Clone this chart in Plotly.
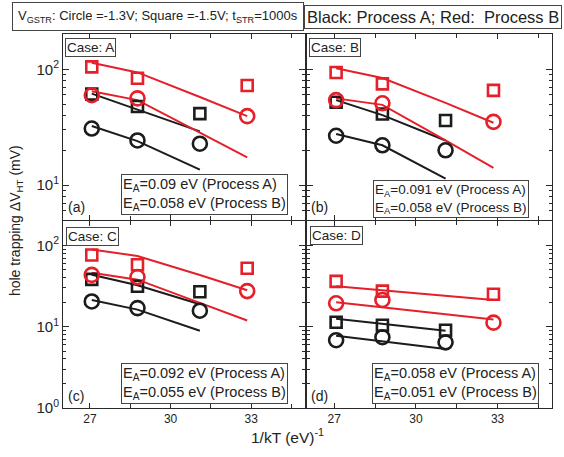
import plotly.graph_objects as go
import math

# ---------------- data ----------------
x_temps = [27.07, 28.77, 31.09, 32.85]          # 1/kT positions
x_black = x_temps[:3]
x_red = [x_temps[0], x_temps[1], x_temps[3]]

# Panel (a) Case A
a_black_sq = [61.0, 47.7, 41.4]
a_black_ci = [30.8, 24.3, 22.8]
a_red_sq = [105.0, 83.6, 72.4]
a_red_ci = [59.7, 56.1, 39.4]
a_black_sq_fit = [61.6, 45.1, 29.1]
a_black_ci_fit = [32.4, 24.0, 13.6]
a_red_sq_fit = [114.0, 94.0, 57.7, 39.4]
a_red_ci_fit = [64.6, 54.2, 28.4, 17.4]

# Panel (b) Case B
b_black_sq = [51.9, 41.1, 36.1]
b_black_ci = [26.7, 22.1, 20.0]
b_red_sq = [93.8, 74.8, 65.8]
b_red_ci = [54.2, 50.9, 35.2]
b_black_sq_fit = [54.2, 40.2, 24.3]
b_black_ci_fit = [27.6, 22.1, 11.4]
b_red_sq_fit = [102.0, 84.0, 51.3, 34.6]
b_red_ci_fit = [56.1, 49.3, 24.3, 14.1]

# Panel (c) Case C
c_black_sq = [38.2, 31.5, 26.9]
c_black_ci = [20.4, 16.9, 15.7]
c_red_sq = [76.4, 57.9, 52.3]
c_red_ci = [43.4, 40.8, 27.4]
c_black_sq_fit = [43.5, 32.4, 18.9]
c_black_ci_fit = [21.3, 16.2, 8.9]
c_red_sq_fit = [89.5, 74.3, 43.2, 28.1]
c_red_ci_fit = [46.0, 37.9, 19.6, 11.9]

# Panel (d) Case D (straight fits, end points only)
d_black_sq = [11.3, 10.4, 9.0]
d_black_ci = [6.8, 7.4, 6.4]
d_red_sq = [36.1, 27.4, 25.0]
d_red_ci = [19.4, 21.3, 11.2]
d_black_fit_x = [x_temps[0], x_temps[2]]
d_red_fit_x = [x_temps[0], x_temps[3]]
d_black_sq_fit = [12.5, 8.9]
d_black_ci_fit = [7.7, 5.3]
d_red_sq_fit = [31.5, 21.3]
d_red_ci_fit = [20.0, 12.2]

cases = ["A", "B", "C", "D"]
panel_tags = ["(a)", "(b)", "(c)", "(d)"]
ea_A = ["0.09", "0.091", "0.092", "0.058"]
ea_B = ["0.058", "0.058", "0.055", "0.051"]
x_ticks = [27, 30, 33]
x_minor = [28.5, 31.5, 34.5]
y_ticks = [1, 10, 100]
y_ticktext = ["10<sup>0</sup>", "10<sup>1</sup>", "10<sup>2</sup>"]

# ---------------- styling ----------------
W, H = 564, 457
RED = "#e5202a"
BLK = "#1c1c1c"
AX = "#2a2a2a"
FONT = "Liberation Sans"


def px(x):
    return x / W


def py(y):
    return 1 - y / H


fig = go.Figure()

panels = [
    dict(x_fit=x_temps, xb_fit=x_black, bsq=a_black_sq, bci=a_black_ci, rsq=a_red_sq, rci=a_red_ci,
         bsqf=a_black_sq_fit, bcif=a_black_ci_fit, rsqf=a_red_sq_fit, rcif=a_red_ci_fit),
    dict(x_fit=x_temps, xb_fit=x_black, bsq=b_black_sq, bci=b_black_ci, rsq=b_red_sq, rci=b_red_ci,
         bsqf=b_black_sq_fit, bcif=b_black_ci_fit, rsqf=b_red_sq_fit, rcif=b_red_ci_fit),
    dict(x_fit=x_temps, xb_fit=x_black, bsq=c_black_sq, bci=c_black_ci, rsq=c_red_sq, rci=c_red_ci,
         bsqf=c_black_sq_fit, bcif=c_black_ci_fit, rsqf=c_red_sq_fit, rcif=c_red_ci_fit),
    dict(x_fit=d_red_fit_x, xb_fit=d_black_fit_x, bsq=d_black_sq, bci=d_black_ci, rsq=d_red_sq, rci=d_red_ci,
         bsqf=d_black_sq_fit, bcif=d_black_ci_fit, rsqf=d_red_sq_fit, rcif=d_red_ci_fit),
]

for i, p in enumerate(panels):
    xa = "x" if i == 0 else f"x{i+1}"
    ya = "y" if i == 0 else f"y{i+1}"
    lw = 2
    # fits
    fig.add_trace(go.Scatter(x=p["xb_fit"], y=p["bsqf"], mode="lines", line=dict(color=BLK, width=lw), xaxis=xa, yaxis=ya))
    fig.add_trace(go.Scatter(x=p["xb_fit"], y=p["bcif"], mode="lines", line=dict(color=BLK, width=lw), xaxis=xa, yaxis=ya))
    fig.add_trace(go.Scatter(x=p["x_fit"], y=p["rsqf"], mode="lines", line=dict(color=RED, width=lw), xaxis=xa, yaxis=ya))
    fig.add_trace(go.Scatter(x=p["x_fit"], y=p["rcif"], mode="lines", line=dict(color=RED, width=lw), xaxis=xa, yaxis=ya))
    # markers
    fig.add_trace(go.Scatter(x=x_black, y=p["bsq"], mode="markers",
                             marker=dict(symbol="square-open", size=11, color=BLK, line=dict(width=2.6, color=BLK)),
                             xaxis=xa, yaxis=ya))
    fig.add_trace(go.Scatter(x=x_black, y=p["bci"], mode="markers",
                             marker=dict(symbol="circle-open", size=14, color=BLK, line=dict(width=2.6, color=BLK)),
                             xaxis=xa, yaxis=ya))
    fig.add_trace(go.Scatter(x=x_red, y=p["rsq"], mode="markers",
                             marker=dict(symbol="square-open", size=11, color=RED, line=dict(width=2.6, color=RED)),
                             xaxis=xa, yaxis=ya))
    fig.add_trace(go.Scatter(x=x_red, y=p["rci"], mode="markers",
                             marker=dict(symbol="circle-open", size=14, color=RED, line=dict(width=2.6, color=RED)),
                             xaxis=xa, yaxis=ya))

# panel geometry in pixels
left_dom = [px(63), px(305)]
right_dom = [px(307), px(552)]
top_dom = [py(224), py(35)]
bot_dom = [py(415), py(225)]
doms = [(left_dom, top_dom), (right_dom, top_dom), (left_dom, bot_dom), (right_dom, bot_dom)]

layout = dict(
    width=W, height=H, margin=dict(l=0, r=0, t=0, b=0),
    paper_bgcolor="white", plot_bgcolor="white", showlegend=False,
    font=dict(family=FONT, color="#222", size=14),
)
for i, (xd, yd) in enumerate(doms):
    xk = "xaxis" if i == 0 else f"xaxis{i+1}"
    yk = "yaxis" if i == 0 else f"yaxis{i+1}"
    xa = "x" if i == 0 else f"x{i+1}"
    ya = "y" if i == 0 else f"y{i+1}"
    bottom = i >= 2
    left = i % 2 == 0
    layout[xk] = dict(
        domain=xd, anchor=ya, range=[26, 35], showline=True, mirror="ticks", linecolor=AX, linewidth=1,
        ticks="inside", ticklen=5, tickcolor=AX, tickvals=x_ticks, showticklabels=bottom,
        tickfont=dict(size=12, color="#222", family=FONT), showgrid=False, zeroline=False,
        minor=dict(tickvals=x_minor, ticks="inside", ticklen=4, tickcolor=AX),
    )
    yr = [math.log10(5), math.log10(200)] if not bottom else [0, math.log10(200)]
    layout[yk] = dict(
        domain=yd, anchor=xa, type="log", range=yr, showline=True, mirror="ticks", linecolor=AX, linewidth=1,
        ticks="inside", ticklen=6, tickcolor=AX, tickvals=y_ticks, ticktext=y_ticktext,
        showticklabels=left, tickfont=dict(size=15, color="#222", family=FONT), showgrid=False, zeroline=False,
        minor=dict(ticks="inside", ticklen=3, tickcolor=AX, dtick="D1"),
    )

annotations = []
# header boxes
annotations.append(dict(
    text="V<sub>GSTR</sub>: Circle =-1.3V; Square =-1.5V; t<sub>STR</sub>=1000s",
    x=px(12), y=py(2), xref="paper", yref="paper", xanchor="left", yanchor="top", showarrow=False,
    font=dict(size=13, family=FONT), bordercolor="#444", borderwidth=1, borderpad=5, bgcolor="white"))
annotations.append(dict(
    text="Black: Process A; Red:  Process B",
    x=px(304), y=py(5), xref="paper", yref="paper", xanchor="left", yanchor="top", showarrow=False,
    font=dict(size=16.5, family=FONT), bordercolor="#444", borderwidth=1, borderpad=2, bgcolor="white"))

case_pos = [(65, 39), (309, 39), (66, 231), (310, 230)]
tag_pos = [(66, 221), (309, 221), (66, 413), (309, 413)]
ea_pos = [(121, 177, 14.5), (373, 183, 13.5), (121, 369, 14.5), (372, 369, 14.5)]
for i in range(4):
    cx, cy = case_pos[i]
    annotations.append(dict(
        text=f"Case: {cases[i]}", x=px(cx), y=py(cy), xref="paper", yref="paper",
        xanchor="left", yanchor="top", showarrow=False, font=dict(size=13.5, family=FONT),
        bordercolor="#444", borderwidth=1, borderpad=1, bgcolor="white"))
    tx, ty = tag_pos[i]
    annotations.append(dict(
        text=panel_tags[i], x=px(tx), y=py(ty), xref="paper", yref="paper",
        xanchor="left", yanchor="bottom", showarrow=False, font=dict(size=14, family=FONT)))
    ex, ey, fs = ea_pos[i]
    annotations.append(dict(
        text=f"E<sub>A</sub>={ea_A[i]} eV (Process A)<br>E<sub>A</sub>={ea_B[i]} eV (Process B)",
        x=px(ex), y=py(ey), xref="paper", yref="paper", xanchor="left", yanchor="top",
        align="left", showarrow=False, font=dict(size=fs, family=FONT),
        bordercolor="#444", borderwidth=1, borderpad=1, bgcolor="white"))

annotations.append(dict(
    text="hole trapping \u0394V<sub>HT</sub> (mV)", x=px(16), y=py(225), xref="paper", yref="paper",
    xanchor="center", yanchor="middle", textangle=-90, showarrow=False, font=dict(size=14, family=FONT)))
annotations.append(dict(
    text="1/kT (eV)<sup>-1</sup>", x=px(287), y=py(444), xref="paper", yref="paper",
    xanchor="center", yanchor="middle", showarrow=False, font=dict(size=15.5, family=FONT)))

layout["annotations"] = annotations
fig.update_layout(**layout)
fig.write_html("out.html")
